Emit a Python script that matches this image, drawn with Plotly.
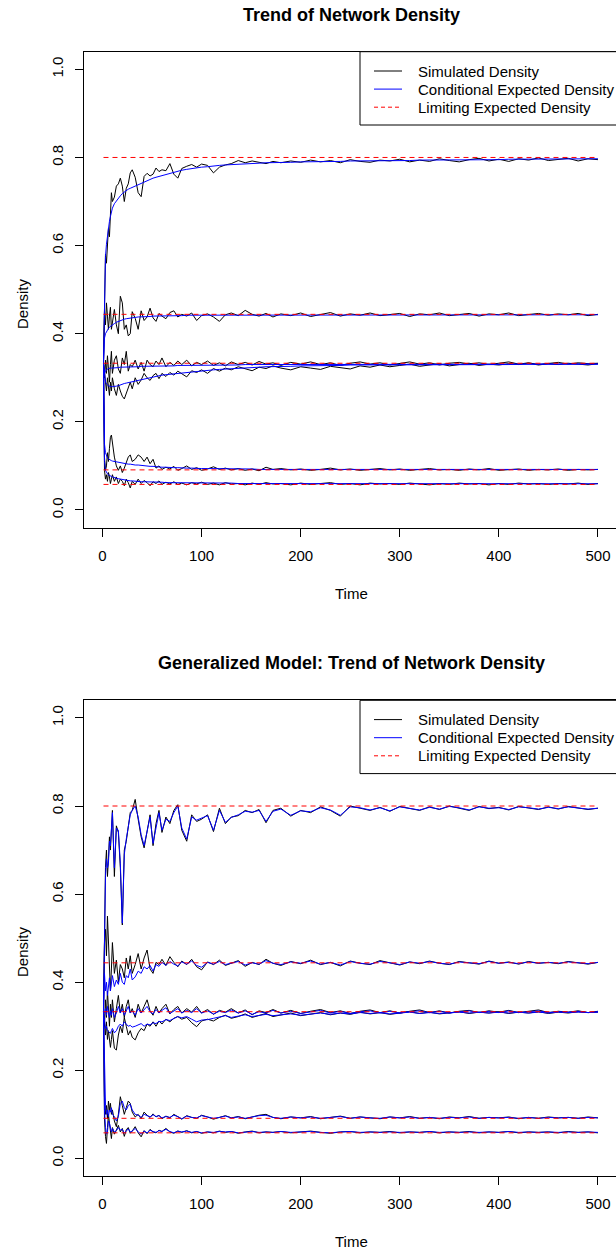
import plotly.graph_objects as go

# ---------------- data ----------------
TIME = [1, 2, 3, 4, 5, 6, 7, 8, 9, 10,
        12, 14, 16, 18, 20, 22, 24, 26, 28, 30,
        33, 36, 39, 42, 45, 48, 51, 54, 57, 60,
        64, 68, 72, 76, 80, 85, 90, 95, 100,
        106, 112, 118, 124, 130, 137, 144, 151, 158, 165, 172,
        180, 190, 200, 210, 220, 230, 240, 250, 260, 270, 280, 290, 300, 310, 320, 330, 340,
        350, 360, 370, 380, 390, 400, 410, 420, 430, 440, 450, 460, 470, 480, 490, 500]

LIMITS = [0.8, 0.444, 0.333, 0.091, 0.058]

X_TICKS = [0, 100, 200, 300, 400, 500]
Y_TICKS = [0.0, 0.2, 0.4, 0.6, 0.8, 1.0]

LEGEND_LABELS = ["Simulated Density", "Conditional Expected Density", "Limiting Expected Density"]
TITLES = ["Trend of Network Density", "Generalized Model: Trend of Network Density"]

# ---- panel 1 : simulated densities ----
P1_SIM_08 = [0.333, 0.500, 0.580, 0.560, 0.600, 0.640, 0.620, 0.670, 0.720, 0.700,
             0.710, 0.735, 0.740, 0.753, 0.735, 0.700, 0.730, 0.740, 0.765, 0.772,
             0.755, 0.720, 0.711, 0.757, 0.764, 0.758, 0.762, 0.776, 0.768, 0.772,
             0.770, 0.786, 0.762, 0.753, 0.775, 0.780, 0.784, 0.778, 0.785,
             0.782, 0.765, 0.778, 0.783, 0.786, 0.793, 0.788, 0.792, 0.789, 0.786, 0.791,
             0.788, 0.792, 0.789, 0.794, 0.790, 0.793, 0.788, 0.795, 0.791, 0.789, 0.794, 0.792, 0.796, 0.790, 0.794, 0.791, 0.797,
             0.793, 0.790, 0.795, 0.798, 0.792, 0.796, 0.791, 0.797, 0.794, 0.799, 0.793, 0.796, 0.798, 0.792, 0.797, 0.795]
P1_SIM_44 = [0.333, 0.450, 0.420, 0.470, 0.440, 0.410, 0.440, 0.460, 0.410, 0.430,
             0.455, 0.420, 0.400, 0.485, 0.470, 0.410, 0.420, 0.395, 0.400, 0.450,
             0.435, 0.410, 0.452, 0.430, 0.438, 0.458, 0.436, 0.428, 0.446, 0.440,
             0.434, 0.448, 0.452, 0.438, 0.444, 0.440, 0.447, 0.430, 0.441,
             0.445, 0.438, 0.428, 0.443, 0.447, 0.441, 0.453, 0.444, 0.440, 0.446, 0.438,
             0.445, 0.441, 0.447, 0.439, 0.444, 0.448, 0.440, 0.445, 0.442, 0.447, 0.441, 0.444, 0.446, 0.439, 0.445, 0.443, 0.447,
             0.441, 0.444, 0.446, 0.440, 0.445, 0.443, 0.447, 0.441, 0.444, 0.446, 0.442, 0.445, 0.443, 0.446, 0.441, 0.444]
P1_SIM_33A = [0.333, 0.300, 0.340, 0.310, 0.350, 0.320, 0.290, 0.330, 0.360, 0.310,
              0.340, 0.350, 0.320, 0.310, 0.345, 0.330, 0.360, 0.315, 0.330, 0.325,
              0.340, 0.320, 0.335, 0.315, 0.340, 0.330, 0.325, 0.338, 0.330, 0.345,
              0.325, 0.335, 0.328, 0.338, 0.330, 0.340, 0.327, 0.335, 0.330,
              0.338, 0.328, 0.334, 0.327, 0.336, 0.330, 0.335, 0.329, 0.337, 0.331, 0.334,
              0.328, 0.335, 0.331, 0.336, 0.330, 0.334, 0.328, 0.333, 0.336, 0.331, 0.334, 0.329, 0.333, 0.336, 0.331, 0.334, 0.329,
              0.333, 0.335, 0.331, 0.334, 0.330, 0.333, 0.336, 0.331, 0.334, 0.330, 0.333, 0.335, 0.331, 0.334, 0.332, 0.333]
P1_SIM_33B = [0.333, 0.310, 0.290, 0.270, 0.300, 0.280, 0.260, 0.290, 0.270, 0.300,
              0.275, 0.260, 0.285, 0.270, 0.258, 0.252, 0.265, 0.280, 0.290, 0.275,
              0.300, 0.285, 0.295, 0.310, 0.300, 0.294, 0.305, 0.310, 0.298, 0.310,
              0.303, 0.312, 0.306, 0.315, 0.310, 0.302, 0.316, 0.312, 0.318,
              0.310, 0.321, 0.315, 0.322, 0.318, 0.325, 0.320, 0.316, 0.324, 0.321, 0.327,
              0.322, 0.318, 0.325, 0.322, 0.319, 0.326, 0.323, 0.320, 0.327, 0.324, 0.329, 0.325, 0.328, 0.331, 0.326, 0.329, 0.332,
              0.327, 0.330, 0.333, 0.328, 0.331, 0.329, 0.332, 0.330, 0.333, 0.329, 0.332, 0.330, 0.333, 0.331, 0.329, 0.332]
P1_SIM_09 = [0.333, 0.120, 0.090, 0.100, 0.130, 0.110, 0.140, 0.165, 0.170, 0.150,
             0.120, 0.100, 0.090, 0.100, 0.085, 0.095, 0.110, 0.120, 0.125, 0.110,
             0.115, 0.125, 0.120, 0.110, 0.120, 0.105, 0.115, 0.095, 0.100, 0.092,
             0.097, 0.093, 0.099, 0.090, 0.094, 0.100, 0.092, 0.096, 0.090,
             0.093, 0.098, 0.092, 0.095, 0.091, 0.094, 0.090, 0.093, 0.089, 0.097, 0.092,
             0.094, 0.091, 0.093, 0.090, 0.092, 0.095, 0.091, 0.093, 0.090, 0.092, 0.094, 0.091, 0.093, 0.090, 0.092, 0.094, 0.091,
             0.092, 0.090, 0.093, 0.091, 0.094, 0.090, 0.092, 0.093, 0.090, 0.092, 0.091, 0.093, 0.090, 0.092, 0.091, 0.092]
P1_SIM_06 = [0.333, 0.090, 0.070, 0.080, 0.065, 0.085, 0.075, 0.060, 0.070, 0.080,
             0.065, 0.075, 0.060, 0.070, 0.065, 0.055, 0.070, 0.062, 0.050, 0.065,
             0.058, 0.070, 0.060, 0.067, 0.062, 0.055, 0.064, 0.060, 0.066, 0.058,
             0.063, 0.059, 0.064, 0.058, 0.061, 0.057, 0.062, 0.059, 0.063,
             0.058, 0.061, 0.057, 0.062, 0.059, 0.060, 0.057, 0.061, 0.058, 0.062, 0.059,
             0.060, 0.057, 0.061, 0.058, 0.060, 0.062, 0.058, 0.060, 0.057, 0.061, 0.059, 0.060, 0.058, 0.061, 0.059, 0.057, 0.060,
             0.058, 0.061, 0.059, 0.060, 0.057, 0.060, 0.058, 0.061, 0.059, 0.060, 0.058, 0.060, 0.059, 0.061, 0.058, 0.060]

# ---- panel 1 : conditional expected densities ----
P1_EXP_08 = [0.333, 0.520, 0.575, 0.603, 0.625, 0.642, 0.655, 0.666, 0.676, 0.685,
             0.695, 0.702, 0.708, 0.713, 0.718, 0.722, 0.725, 0.728, 0.730, 0.732,
             0.736, 0.739, 0.742, 0.745, 0.748, 0.750, 0.753, 0.755, 0.757, 0.759,
             0.762, 0.764, 0.767, 0.769, 0.771, 0.773, 0.775, 0.776, 0.778,
             0.779, 0.781, 0.782, 0.783, 0.784, 0.785, 0.786, 0.787, 0.787, 0.788, 0.788,
             0.789, 0.789, 0.790, 0.790, 0.791, 0.791, 0.791, 0.792, 0.792, 0.792, 0.793, 0.793, 0.793, 0.793, 0.794, 0.794, 0.794,
             0.794, 0.795, 0.795, 0.795, 0.795, 0.795, 0.796, 0.796, 0.796, 0.796, 0.796, 0.796, 0.796, 0.797, 0.797, 0.797]
P1_EXP_44 = [0.333, 0.390, 0.400, 0.405, 0.409, 0.412, 0.415, 0.417, 0.419, 0.420,
             0.423, 0.426, 0.428, 0.430, 0.432, 0.433, 0.434, 0.435, 0.436, 0.436,
             0.437, 0.438, 0.438, 0.439, 0.439, 0.439, 0.440, 0.440, 0.440, 0.440,
             0.441, 0.441, 0.441, 0.441, 0.441, 0.442, 0.442, 0.442, 0.442,
             0.442, 0.442, 0.442, 0.442, 0.442, 0.442, 0.442, 0.442, 0.442, 0.442, 0.442,
             0.443, 0.443, 0.443, 0.443, 0.443, 0.443, 0.443, 0.443, 0.443, 0.443, 0.443, 0.443, 0.443, 0.443, 0.443, 0.443, 0.443,
             0.443, 0.443, 0.443, 0.443, 0.443, 0.443, 0.443, 0.443, 0.443, 0.443, 0.443, 0.443, 0.443, 0.443, 0.443, 0.443]
P1_EXP_33A = [0.333, 0.310, 0.315, 0.318, 0.320, 0.321, 0.322, 0.322, 0.322, 0.322,
              0.323, 0.323, 0.323, 0.324, 0.324, 0.324, 0.324, 0.325, 0.325, 0.325,
              0.325, 0.325, 0.326, 0.326, 0.326, 0.326, 0.326, 0.327, 0.327, 0.327,
              0.327, 0.327, 0.327, 0.328, 0.328, 0.328, 0.328, 0.328, 0.328,
              0.329, 0.329, 0.329, 0.329, 0.329, 0.329, 0.330, 0.330, 0.330, 0.330, 0.330,
              0.330, 0.330, 0.330, 0.330, 0.330, 0.331, 0.331, 0.331, 0.331, 0.331, 0.331, 0.331, 0.331, 0.331, 0.331, 0.331, 0.331,
              0.331, 0.331, 0.331, 0.331, 0.331, 0.331, 0.331, 0.331, 0.331, 0.331, 0.331, 0.331, 0.331, 0.331, 0.331, 0.331]
P1_EXP_33B = [0.333, 0.300, 0.290, 0.286, 0.283, 0.282, 0.281, 0.280, 0.280, 0.280,
              0.280, 0.281, 0.282, 0.284, 0.285, 0.287, 0.288, 0.289, 0.290, 0.292,
              0.293, 0.295, 0.297, 0.298, 0.300, 0.301, 0.302, 0.303, 0.305, 0.306,
              0.307, 0.308, 0.309, 0.310, 0.311, 0.312, 0.314, 0.315, 0.316,
              0.317, 0.318, 0.319, 0.320, 0.321, 0.322, 0.323, 0.323, 0.324, 0.325, 0.325,
              0.326, 0.326, 0.327, 0.327, 0.328, 0.328, 0.328, 0.329, 0.329, 0.329, 0.329, 0.329, 0.329, 0.330, 0.330, 0.330, 0.330,
              0.330, 0.330, 0.330, 0.330, 0.330, 0.330, 0.330, 0.331, 0.331, 0.331, 0.331, 0.331, 0.331, 0.331, 0.331, 0.331]
P1_EXP_09 = [0.333, 0.150, 0.130, 0.122, 0.118, 0.116, 0.114, 0.113, 0.112, 0.111,
             0.110, 0.109, 0.108, 0.107, 0.106, 0.106, 0.105, 0.104, 0.104, 0.103,
             0.102, 0.102, 0.101, 0.100, 0.100, 0.099, 0.099, 0.098, 0.098, 0.097,
             0.097, 0.096, 0.096, 0.096, 0.095, 0.095, 0.095, 0.094, 0.094,
             0.094, 0.094, 0.093, 0.093, 0.093, 0.093, 0.093, 0.093, 0.092, 0.092, 0.092,
             0.092, 0.092, 0.092, 0.092, 0.092, 0.092, 0.092, 0.092, 0.092, 0.092, 0.092, 0.092, 0.092, 0.092, 0.092, 0.092, 0.092,
             0.092, 0.092, 0.092, 0.092, 0.092, 0.092, 0.092, 0.092, 0.092, 0.092, 0.092, 0.092, 0.092, 0.092, 0.092, 0.092]
P1_EXP_06 = [0.333, 0.110, 0.090, 0.085, 0.082, 0.080, 0.078, 0.077, 0.076, 0.075,
             0.073, 0.072, 0.071, 0.070, 0.069, 0.068, 0.067, 0.067, 0.066, 0.066,
             0.065, 0.065, 0.064, 0.064, 0.064, 0.063, 0.063, 0.063, 0.063, 0.063,
             0.062, 0.062, 0.062, 0.062, 0.062, 0.061, 0.061, 0.061, 0.061,
             0.061, 0.061, 0.061, 0.061, 0.061, 0.060, 0.060, 0.060, 0.060, 0.060, 0.060,
             0.060, 0.060, 0.060, 0.060, 0.060, 0.060, 0.060, 0.060, 0.0595, 0.0595, 0.0595, 0.0595, 0.0595, 0.0595, 0.0595, 0.0595, 0.0595,
             0.0595, 0.0595, 0.0595, 0.0595, 0.0595, 0.0595, 0.0595, 0.0595, 0.0595, 0.0595, 0.0595, 0.0595, 0.0595, 0.0595, 0.0595, 0.0595]

# ---- panel 2 : simulated densities ----
P2_SIM_08 = [0.333, 0.560, 0.660, 0.700, 0.640, 0.680, 0.730, 0.700, 0.770, 0.790,
             0.640, 0.755, 0.740, 0.660, 0.530, 0.700, 0.720, 0.760, 0.785, 0.790,
             0.815, 0.770, 0.730, 0.705, 0.740, 0.780, 0.710, 0.760, 0.790, 0.740,
             0.775, 0.760, 0.790, 0.803, 0.745, 0.720, 0.780, 0.765, 0.770,
             0.780, 0.742, 0.795, 0.760, 0.775, 0.778, 0.790, 0.785, 0.792, 0.762, 0.790,
             0.795, 0.777, 0.790, 0.785, 0.798, 0.790, 0.777, 0.800, 0.795, 0.790, 0.797, 0.788, 0.799, 0.794, 0.790, 0.798, 0.792,
             0.800, 0.795, 0.790, 0.799, 0.794, 0.797, 0.791, 0.799, 0.795, 0.792, 0.798, 0.793, 0.799, 0.796, 0.792, 0.795]
P2_SIM_44 = [0.333, 0.490, 0.520, 0.460, 0.550, 0.500, 0.420, 0.380, 0.430, 0.490,
             0.420, 0.450, 0.400, 0.440, 0.430, 0.410, 0.455, 0.430, 0.460, 0.420,
             0.440, 0.465, 0.430, 0.455, 0.473, 0.430, 0.420, 0.445, 0.440, 0.452,
             0.438, 0.458, 0.445, 0.435, 0.448, 0.440, 0.452, 0.435, 0.428,
             0.446, 0.440, 0.450, 0.438, 0.443, 0.449, 0.436, 0.445, 0.440, 0.452, 0.443,
             0.438, 0.447, 0.442, 0.450, 0.440, 0.445, 0.437, 0.448, 0.443, 0.440, 0.449, 0.444, 0.439, 0.446, 0.442, 0.448, 0.443,
             0.440, 0.447, 0.444, 0.441, 0.448, 0.443, 0.446, 0.441, 0.447, 0.443, 0.445, 0.442, 0.447, 0.444, 0.441, 0.445]
P2_SIM_33A = [0.333, 0.300, 0.360, 0.320, 0.380, 0.330, 0.300, 0.350, 0.320, 0.360,
              0.310, 0.340, 0.370, 0.330, 0.350, 0.320, 0.345, 0.360, 0.330, 0.340,
              0.320, 0.350, 0.330, 0.345, 0.360, 0.335, 0.325, 0.345, 0.330, 0.340,
              0.350, 0.328, 0.338, 0.345, 0.330, 0.340, 0.332, 0.345, 0.330,
              0.338, 0.327, 0.336, 0.332, 0.340, 0.330, 0.337, 0.326, 0.335, 0.331, 0.338,
              0.330, 0.336, 0.329, 0.334, 0.338, 0.331, 0.335, 0.329, 0.334, 0.337, 0.331, 0.335, 0.330, 0.334, 0.337, 0.331, 0.335,
              0.330, 0.334, 0.336, 0.331, 0.335, 0.332, 0.336, 0.331, 0.334, 0.337, 0.331, 0.334, 0.332, 0.335, 0.331, 0.334]
P2_SIM_33B = [0.333, 0.300, 0.280, 0.310, 0.270, 0.290, 0.260, 0.252, 0.270, 0.290,
              0.250, 0.246, 0.280, 0.300, 0.285, 0.320, 0.300, 0.280, 0.290, 0.275,
              0.269, 0.285, 0.295, 0.290, 0.305, 0.300, 0.310, 0.300, 0.312, 0.305,
              0.316, 0.310, 0.318, 0.322, 0.316, 0.320, 0.308, 0.299, 0.312,
              0.316, 0.312, 0.320, 0.325, 0.318, 0.322, 0.328, 0.320, 0.325, 0.329, 0.322,
              0.326, 0.330, 0.324, 0.328, 0.331, 0.326, 0.330, 0.327, 0.332, 0.328, 0.331, 0.327, 0.330, 0.333, 0.329, 0.332, 0.328,
              0.331, 0.333, 0.329, 0.332, 0.330, 0.333, 0.329, 0.332, 0.330, 0.333, 0.329, 0.332, 0.330, 0.333, 0.331, 0.332]
P2_SIM_09 = [0.333, 0.140, 0.100, 0.120, 0.090, 0.130, 0.110, 0.125, 0.100, 0.110,
             0.085, 0.072, 0.100, 0.140, 0.120, 0.100, 0.115, 0.130, 0.125, 0.105,
             0.094, 0.100, 0.090, 0.105, 0.098, 0.093, 0.101, 0.094, 0.098, 0.090,
             0.096, 0.092, 0.100, 0.094, 0.089, 0.097, 0.093, 0.091, 0.098,
             0.094, 0.089, 0.093, 0.097, 0.092, 0.095, 0.090, 0.094, 0.098, 0.100, 0.093,
             0.090, 0.094, 0.092, 0.095, 0.090, 0.093, 0.096, 0.091, 0.094, 0.092, 0.090, 0.094, 0.092, 0.095, 0.091, 0.093, 0.090,
             0.094, 0.092, 0.095, 0.091, 0.093, 0.092, 0.094, 0.090, 0.093, 0.091, 0.094, 0.092, 0.093, 0.091, 0.094, 0.092]
P2_SIM_06 = [0.333, 0.090, 0.050, 0.034, 0.070, 0.100, 0.080, 0.060, 0.045, 0.070,
             0.055, 0.064, 0.075, 0.060, 0.068, 0.050, 0.065, 0.070, 0.057, 0.062,
             0.072, 0.058, 0.049, 0.063, 0.056, 0.066, 0.060, 0.058, 0.064, 0.061,
             0.068, 0.060, 0.057, 0.062, 0.059, 0.063, 0.058, 0.061, 0.057,
             0.060, 0.058, 0.062, 0.059, 0.061, 0.057, 0.060, 0.062, 0.058, 0.060, 0.059,
             0.061, 0.058, 0.060, 0.062, 0.059, 0.057, 0.060, 0.061, 0.058, 0.060, 0.059, 0.061, 0.058, 0.060, 0.059, 0.061, 0.058,
             0.060, 0.059, 0.061, 0.058, 0.060, 0.059, 0.061, 0.058, 0.060, 0.059, 0.060, 0.058, 0.061, 0.059, 0.060, 0.058]

# ---- panel 2 : conditional expected densities ----
P2_EXP_08 = [0.333, 0.557, 0.640, 0.680, 0.660, 0.670, 0.720, 0.710, 0.760, 0.785,
             0.660, 0.750, 0.745, 0.670, 0.534, 0.690, 0.725, 0.755, 0.780, 0.790,
             0.800, 0.775, 0.735, 0.710, 0.745, 0.775, 0.715, 0.755, 0.785, 0.745,
             0.770, 0.765, 0.785, 0.800, 0.750, 0.725, 0.775, 0.768, 0.772,
             0.778, 0.745, 0.790, 0.763, 0.774, 0.780, 0.788, 0.786, 0.790, 0.765, 0.788,
             0.793, 0.779, 0.789, 0.787, 0.796, 0.791, 0.779, 0.798, 0.796, 0.791, 0.796, 0.789, 0.798, 0.795, 0.791, 0.797, 0.793,
             0.799, 0.796, 0.791, 0.798, 0.795, 0.796, 0.792, 0.798, 0.796, 0.793, 0.797, 0.794, 0.798, 0.796, 0.793, 0.795]
P2_EXP_44 = [0.333, 0.420, 0.380, 0.400, 0.370, 0.390, 0.410, 0.380, 0.400, 0.415,
             0.390, 0.405, 0.395, 0.420, 0.400, 0.395, 0.415, 0.410, 0.430, 0.405,
             0.412, 0.425, 0.420, 0.435, 0.430, 0.438, 0.425, 0.440, 0.436, 0.445,
             0.438, 0.447, 0.441, 0.437, 0.446, 0.441, 0.448, 0.438, 0.434,
             0.445, 0.441, 0.447, 0.440, 0.443, 0.447, 0.439, 0.444, 0.441, 0.449, 0.443,
             0.440, 0.446, 0.443, 0.448, 0.441, 0.445, 0.439, 0.447, 0.443, 0.441, 0.447, 0.444, 0.440, 0.446, 0.443, 0.447, 0.443,
             0.441, 0.446, 0.444, 0.442, 0.447, 0.443, 0.445, 0.442, 0.446, 0.443, 0.445, 0.443, 0.446, 0.444, 0.442, 0.445]
P2_EXP_33A = [0.333, 0.330, 0.340, 0.325, 0.345, 0.330, 0.320, 0.335, 0.325, 0.340,
              0.320, 0.330, 0.345, 0.330, 0.340, 0.325, 0.335, 0.345, 0.330, 0.335,
              0.325, 0.340, 0.330, 0.337, 0.345, 0.333, 0.328, 0.338, 0.330, 0.336,
              0.342, 0.329, 0.335, 0.340, 0.330, 0.336, 0.331, 0.340, 0.330,
              0.335, 0.328, 0.334, 0.331, 0.337, 0.330, 0.335, 0.327, 0.333, 0.330, 0.336,
              0.330, 0.334, 0.329, 0.333, 0.336, 0.330, 0.334, 0.329, 0.333, 0.335, 0.330, 0.334, 0.330, 0.333, 0.335, 0.331, 0.334,
              0.330, 0.333, 0.335, 0.331, 0.334, 0.331, 0.335, 0.331, 0.333, 0.335, 0.331, 0.333, 0.332, 0.334, 0.331, 0.333]
P2_EXP_33B = [0.333, 0.310, 0.295, 0.300, 0.290, 0.288, 0.285, 0.284, 0.290, 0.295,
              0.285, 0.290, 0.300, 0.305, 0.300, 0.310, 0.305, 0.300, 0.302, 0.298,
              0.300, 0.303, 0.306, 0.300, 0.305, 0.303, 0.308, 0.306, 0.311, 0.310,
              0.315, 0.313, 0.318, 0.322, 0.319, 0.322, 0.316, 0.310, 0.314,
              0.315, 0.318, 0.321, 0.324, 0.320, 0.323, 0.326, 0.322, 0.325, 0.327, 0.324,
              0.326, 0.328, 0.325, 0.328, 0.330, 0.327, 0.330, 0.328, 0.331, 0.329, 0.331, 0.328, 0.330, 0.332, 0.329, 0.331, 0.329,
              0.331, 0.332, 0.330, 0.332, 0.330, 0.332, 0.330, 0.332, 0.330, 0.332, 0.330, 0.332, 0.331, 0.332, 0.331, 0.332]
P2_EXP_09 = [0.333, 0.200, 0.120, 0.100, 0.110, 0.095, 0.110, 0.105, 0.115, 0.100,
             0.095, 0.085, 0.095, 0.125, 0.130, 0.115, 0.110, 0.120, 0.123, 0.110,
             0.100, 0.098, 0.093, 0.100, 0.097, 0.094, 0.099, 0.095, 0.097, 0.092,
             0.095, 0.093, 0.098, 0.095, 0.090, 0.096, 0.093, 0.092, 0.097,
             0.094, 0.091, 0.093, 0.096, 0.092, 0.094, 0.091, 0.094, 0.097, 0.098, 0.093,
             0.091, 0.094, 0.092, 0.094, 0.091, 0.093, 0.095, 0.091, 0.094, 0.092, 0.091, 0.094, 0.092, 0.094, 0.091, 0.093, 0.091,
             0.093, 0.092, 0.094, 0.091, 0.093, 0.092, 0.093, 0.091, 0.093, 0.091, 0.093, 0.092, 0.093, 0.091, 0.093, 0.092]
P2_EXP_06 = [0.333, 0.110, 0.070, 0.055, 0.060, 0.085, 0.080, 0.070, 0.060, 0.068,
             0.060, 0.063, 0.070, 0.064, 0.066, 0.057, 0.063, 0.067, 0.060, 0.062,
             0.068, 0.060, 0.055, 0.062, 0.058, 0.064, 0.061, 0.059, 0.063, 0.061,
             0.066, 0.061, 0.058, 0.062, 0.060, 0.062, 0.059, 0.061, 0.058,
             0.060, 0.059, 0.061, 0.060, 0.061, 0.058, 0.060, 0.061, 0.059, 0.060, 0.059,
             0.061, 0.059, 0.060, 0.061, 0.059, 0.058, 0.060, 0.061, 0.059, 0.060, 0.059, 0.060, 0.059, 0.060, 0.059, 0.061, 0.059,
             0.060, 0.059, 0.060, 0.059, 0.060, 0.059, 0.061, 0.059, 0.060, 0.059, 0.060, 0.059, 0.060, 0.059, 0.060, 0.059]

P1_SIMS = [P1_SIM_08, P1_SIM_44, P1_SIM_33A, P1_SIM_33B, P1_SIM_09, P1_SIM_06]
P1_EXPS = [P1_EXP_08, P1_EXP_44, P1_EXP_33A, P1_EXP_33B, P1_EXP_09, P1_EXP_06]
P2_SIMS = [P2_SIM_08, P2_SIM_44, P2_SIM_33A, P2_SIM_33B, P2_SIM_09, P2_SIM_06]
P2_EXPS = [P2_EXP_08, P2_EXP_44, P2_EXP_33A, P2_EXP_33B, P2_EXP_09, P2_EXP_06]

for s in P1_SIMS + P1_EXPS + P2_SIMS + P2_EXPS:
    assert len(s) == len(TIME), len(s)

# ---------------- layout helpers ----------------
W, H = 616, 1254
FONT = "Liberation Sans, Arial, sans-serif"


def fx(p):
    return p / W


def fy(p):
    return 1 - p / H


PANELS = [
    dict(xa="x", ya="y", top=51.7, bottom=527.6, title_y=15, xlab_y=593, ylab_y=304,
         sims=P1_SIMS, exps=P1_EXPS, title=TITLES[0]),
    dict(xa="x2", ya="y2", top=700.3, bottom=1176.0, title_y=662.5, xlab_y=1241.5, ylab_y=952,
         sims=P2_SIMS, exps=P2_EXPS, title=TITLES[1]),
]
BOX_LEFT = 84.0

fig = go.Figure()
for p in PANELS:
    for s in p["sims"]:
        fig.add_trace(go.Scatter(x=TIME, y=s, mode="lines", line=dict(color="black", width=1),
                                 xaxis=p["xa"], yaxis=p["ya"], showlegend=False, hoverinfo="skip"))
    for e in p["exps"]:
        fig.add_trace(go.Scatter(x=TIME, y=e, mode="lines", line=dict(color="#0000FF", width=1),
                                 xaxis=p["xa"], yaxis=p["ya"], showlegend=False, hoverinfo="skip"))
    for L in LIMITS:
        fig.add_trace(go.Scatter(x=[TIME[0], TIME[-1]], y=[L, L], mode="lines",
                                 line=dict(color="#FF0000", width=1, dash="5px,4px"),
                                 xaxis=p["xa"], yaxis=p["ya"], showlegend=False, hoverinfo="skip"))

axis_common = dict(showline=True, linecolor="black", linewidth=1, ticks="outside", ticklen=8,
                   tickwidth=1, tickcolor="black", showgrid=False, zeroline=False,
                   tickfont=dict(family=FONT, size=15, color="black"))

layout = dict(width=W, height=H, autosize=False, margin=dict(l=0, r=0, t=0, b=0),
              paper_bgcolor="white", plot_bgcolor="white", showlegend=False)

annotations = []
shapes = []
for i, p in enumerate(PANELS):
    sfx = "" if i == 0 else str(i + 1)
    layout["xaxis" + sfx] = dict(domain=[fx(BOX_LEFT), 1.0], range=[-18.67, 518.2], tickvals=X_TICKS,
                                 mirror=True, anchor="y" + sfx, ticklabelstandoff=6, **axis_common)
    layout["yaxis" + sfx] = dict(domain=[fy(p["bottom"]), fy(p["top"])], range=[-0.04, 1.04],
                                 tickvals=Y_TICKS, tickformat=".1f", tickangle=-90, mirror=False,
                                 anchor="x" + sfx, ticklabelstandoff=6, **axis_common)
    cx = (BOX_LEFT + 618) / 2
    annotations.append(dict(text="<b>" + p["title"] + "</b>", x=fx(cx), y=fy(p["title_y"]), xref="paper", yref="paper",
                            xanchor="center", yanchor="middle", showarrow=False,
                            font=dict(family=FONT, size=18, color="black")))
    annotations.append(dict(text="Time", x=fx(cx), y=fy(p["xlab_y"]), xref="paper", yref="paper",
                            xanchor="center", yanchor="middle", showarrow=False,
                            font=dict(family=FONT, size=15, color="black")))
    annotations.append(dict(text="Density", x=fx(22), y=fy(p["ylab_y"]), xref="paper", yref="paper",
                            xanchor="center", yanchor="middle", showarrow=False, textangle=-90,
                            font=dict(family=FONT, size=15, color="black")))
    # legend box
    t0 = p["top"]
    shapes.append(dict(type="rect", xref="paper", yref="paper", x0=fx(360), x1=fx(640), y0=fy(t0 + 73.3), y1=fy(t0),
                       line=dict(color="black", width=1), fillcolor="white", layer="above"))
    styles = [dict(color="black", width=1), dict(color="#0000FF", width=1), dict(color="#FF0000", width=1, dash="4px,3px")]
    for k, (lab, st) in enumerate(zip(LEGEND_LABELS, styles)):
        ry = t0 + 19.3 + 18.1 * k
        shapes.append(dict(type="line", xref="paper", yref="paper", x0=fx(374), x1=fx(402), y0=fy(ry), y1=fy(ry),
                           line=st, layer="above"))
        annotations.append(dict(text=lab, x=fx(415.5), y=fy(ry), xref="paper", yref="paper",
                                xanchor="left", yanchor="middle", showarrow=False,
                                font=dict(family=FONT, size=15, color="black")))

layout["annotations"] = annotations
layout["shapes"] = shapes
fig.update_layout(**layout)

fig.write_html("out.html", config={"displayModeBar": False, "staticPlot": True},
               post_script="document.body.style.margin='0';")
